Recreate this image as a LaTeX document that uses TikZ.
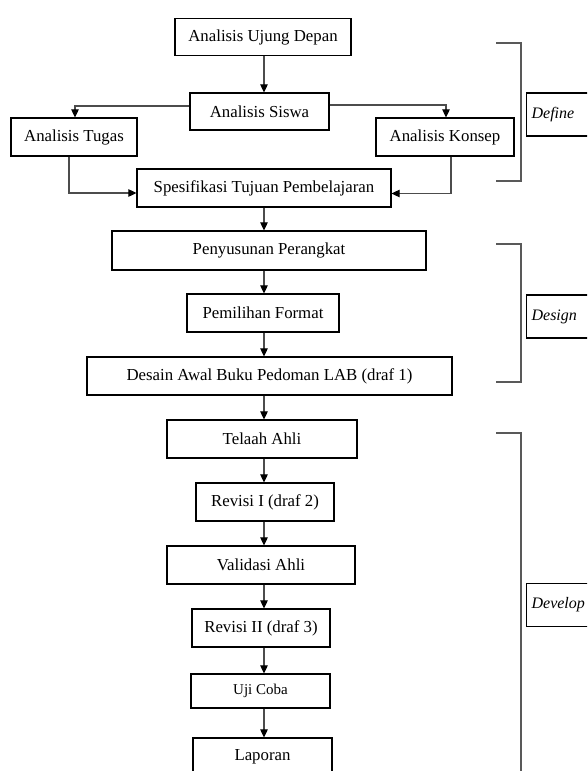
\documentclass[tikz,border=0pt]{standalone}
\usepackage{fontspec}
\setmainfont{Liberation Serif}
\usetikzlibrary{arrows.meta}
\tikzset{
    every picture/.style={x=1pt,y=-1pt},
    procbox/.style={draw=black, line width=1.2pt, inner sep=0pt, align=center,
        font=\fontsize{16.8}{20}\selectfont},
    flow/.style={draw=black!70, line width=1.1pt,
        -{Triangle[length=8pt,width=7.5pt,color=black]}},
    phaseline/.style={draw=black!65, line width=1.6pt},
    phasebox/.style={draw=black, line width=1.2pt, inner xsep=5pt, inner ysep=0pt,
        text width=64pt, align=left, minimum height=43pt, anchor=west,
        font=\fontsize{16}{19}\selectfont\itshape}
}

\begin{document}
\begin{tikzpicture}
    \useasboundingbox (0,0) rectangle (587,771);
    \clip (0,0) rectangle (587,771);

    % Define stage
    \node[procbox, minimum width=176pt, minimum height=37pt] (ujung) at (263,37) {Analisis Ujung Depan};
    \node[procbox, minimum width=139pt, minimum height=37pt] (siswa) at (259.5,111.5) {Analisis Siswa};
    \node[procbox, minimum width=126pt, minimum height=38pt] (tugas) at (74,137) {Analisis Tugas};
    \node[procbox, minimum width=138pt, minimum height=38pt] (konsep) at (445,137) {Analisis Konsep};
    \node[procbox, minimum width=254pt, minimum height=38pt] (spes) at (264,188) {Spesifikasi Tujuan Pembelajaran};

    % Design stage
    \node[procbox, minimum width=314pt, minimum height=39pt] (penyusunan) at (269,250.5) {Penyusunan Perangkat};
    \node[procbox, minimum width=152pt, minimum height=38pt] (pemilihan) at (263,313) {Pemilihan Format};
    \node[procbox, minimum width=365pt, minimum height=38pt] (desain) at (269.5,376) {Desain Awal Buku Pedoman LAB (draf 1)};

    % Develop stage
    \node[procbox, minimum width=190pt, minimum height=38pt] (telaah) at (262,439) {Telaah Ahli};
    \node[procbox, minimum width=138pt, minimum height=38pt] (revisia) at (265,502) {Revisi I (draf 2)};
    \node[procbox, minimum width=188pt, minimum height=38pt] (validasi) at (261,565) {Validasi Ahli};
    \node[procbox, minimum width=138pt, minimum height=38pt] (revisib) at (261,628) {Revisi II (draf 3)};
    \node[procbox, minimum width=139pt, minimum height=34pt, font=\fontsize{15}{18}\selectfont] (ujicoba) at (260.5,691) {Uji Coba};
    \node[procbox, minimum width=139pt, minimum height=38pt] (laporan) at (262.5,757) {Laporan};

    % Main flow
    \coordinate (axis) at (264,0);
    \foreach \a/\b in {ujung/siswa, spes/penyusunan, penyusunan/pemilihan, pemilihan/desain,
        desain/telaah, telaah/revisia, revisia/validasi, validasi/revisib,
        revisib/ujicoba, ujicoba/laporan} {
        \draw[flow] (axis |- \a.south) -- (axis |- \b.north);
    }

    % Side branches
    \draw[flow] ([yshift=5.5pt]siswa.west) -| ([xshift=1pt]tugas.north);
    \draw[flow] ([yshift=6.5pt]siswa.east) -| ([xshift=1pt]konsep.north);
    \draw[flow] ([xshift=-5pt]tugas.south) |- ([yshift=-5pt]spes.west);
    \draw[flow] ([xshift=6pt]konsep.south) |- ([yshift=-5.5pt]spes.east);

    % Stage brackets
    \draw[phaseline] (496,43) -- (521,43) -- (521,181) -- (496,181);
    \draw[phaseline] (496,244) -- (521,244) -- (521,382) -- (496,382);
    \draw[phaseline] (496,433) -- (521,433) -- (521,780);

    % Stage labels
    \node[phasebox] (define) at (526,114.5) {Define};
    \node[phasebox] (design) at (526,316.5) {Design};
    \node[phasebox] (develop) at (526,605) {Develop};
\end{tikzpicture}
\end{document}
